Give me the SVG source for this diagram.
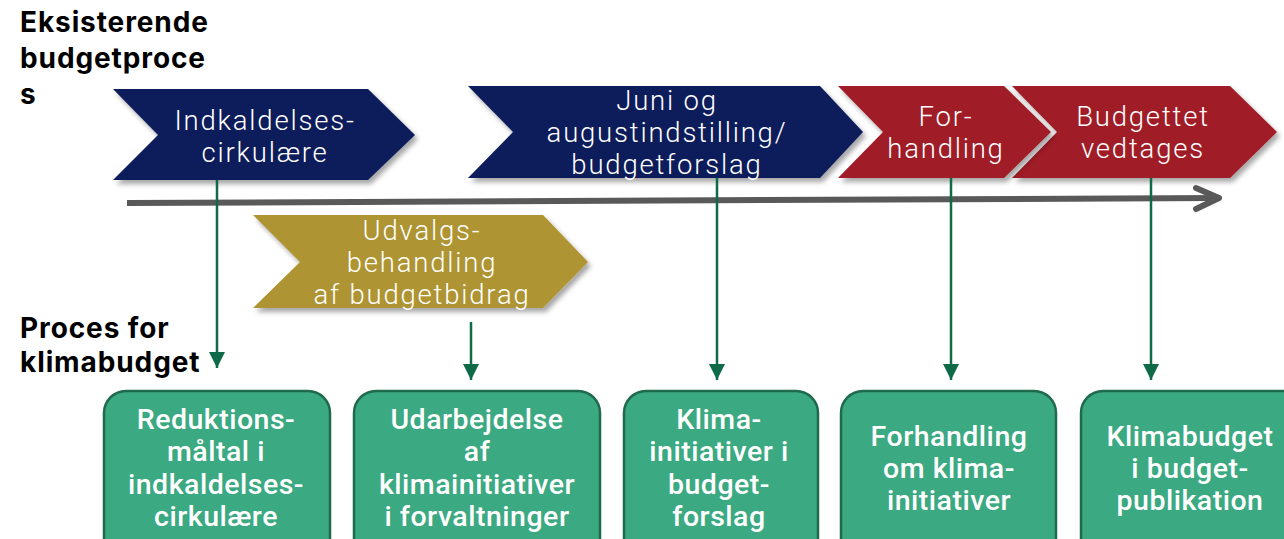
<svg xmlns="http://www.w3.org/2000/svg" width="1284" height="539" viewBox="0 0 1284 539">
<defs>
<filter id="sh" x="-10%" y="-20%" width="130%" height="150%">
<feDropShadow dx="3" dy="4" stdDeviation="2.5" flood-color="#000" flood-opacity="0.35"/>
</filter>
<marker id="ah" markerWidth="16" markerHeight="16" refX="16" refY="8" orient="auto" markerUnits="userSpaceOnUse" viewBox="0 0 16 16">
<path d="M0,0 L16,8 L0,16 Z" fill="#0f6b47"/>
</marker>
<style>
.hd{font-family:Inter,"Open Sans",sans-serif;font-weight:700;font-size:28px;letter-spacing:0.9px;fill:#000}
.cv{font-family:Roboto,"Open Sans",sans-serif;font-weight:300;font-size:27.5px;letter-spacing:1.8px;fill:#fff;text-anchor:middle}
.bx{font-family:Roboto,"Noto Sans",sans-serif;font-weight:500;font-size:28.5px;letter-spacing:0.5px;fill:#fff;text-anchor:middle}
.box{fill:#3ba982;stroke:#1d6a4c;stroke-width:2.5}
.cn{stroke:#0f6b47;stroke-width:2.5;fill:none}
.navy{fill:#0c1c5a}
.red{fill:#a01a26}
.gold{fill:#ae9432}
</style>
</defs>
<rect width="1284" height="539" fill="#fff"/>

<g id="heading-eksisterende">
<text class="hd" x="20" y="32">Eksisterende</text>
<text class="hd" x="20" y="68">budgetproce</text>
<text class="hd" x="20" y="104">s</text>
</g>
<g id="heading-proces">
<text class="hd" x="20" y="338">Proces for</text>
<text class="hd" x="20" y="372">klimabudget</text>
</g>

<g id="timeline">
<line x1="127" y1="203" x2="1217" y2="198" stroke="#595959" stroke-width="6"/>
<polyline points="1196,188 1219,198 1196,209" fill="none" stroke="#595959" stroke-width="6" stroke-linecap="round" stroke-linejoin="round"/>
</g>

<g id="chevron-indkaldelse">
<polygon class="navy" filter="url(#sh)" points="113,89 368,89 415,135 368,180 113,180 158,135"/>
<text class="cv" x="265" y="130">Indkaldelses-</text>
<text class="cv" x="265" y="162">cirkulære</text>
</g>

<g id="chevron-juni">
<polygon class="navy" filter="url(#sh)" points="468,86 820,86 863,132 820,178 468,178 513,132"/>
<text class="cv" x="667" y="110">Juni og</text>
<text class="cv" x="667" y="142">augustindstilling/</text>
<text class="cv" x="667" y="174">budgetforslag</text>
</g>

<g id="chevron-vedtages">
<polygon class="red" filter="url(#sh)" points="1012,86 1230,86 1277,132 1230,178 1012,178 1057,132"/>
<text class="cv" x="1143" y="126">Budgettet</text>
<text class="cv" x="1143" y="158">vedtages</text>
</g>

<g id="chevron-forhandling">
<polygon class="red" filter="url(#sh)" points="838,86 1004,86 1051,132 1004,178 838,178 883,132"/>
<text class="cv" x="946" y="126">For-</text>
<text class="cv" x="946" y="158">handling</text>
</g>

<g id="chevron-udvalg">
<polygon class="gold" filter="url(#sh)" points="253,215 543,215 588,262 543,308 253,308 300,262"/>
<text class="cv" x="422" y="240">Udvalgs-</text>
<text class="cv" x="422" y="272">behandling</text>
<text class="cv" x="422" y="304">af budgetbidrag</text>
</g>

<g id="connectors">
<line class="cn" x1="217" y1="180" x2="217" y2="368" marker-end="url(#ah)"/>
<line class="cn" x1="471" y1="322" x2="471" y2="380" marker-end="url(#ah)"/>
<line class="cn" x1="717" y1="178" x2="717" y2="380" marker-end="url(#ah)"/>
<line class="cn" x1="951" y1="178" x2="951" y2="380" marker-end="url(#ah)"/>
<line class="cn" x1="1151" y1="178" x2="1151" y2="380" marker-end="url(#ah)"/>
</g>

<g id="box-reduktion">
<rect class="box" x="104" y="391" width="226" height="170" rx="22"/>
<text class="bx" x="216" y="429">Reduktions-</text>
<text class="bx" x="216" y="461">måltal i</text>
<text class="bx" x="216" y="494">indkaldelses-</text>
<text class="bx" x="216" y="526">cirkulære</text>
</g>

<g id="box-udarbejdelse">
<rect class="box" x="354" y="391" width="246" height="170" rx="22"/>
<text class="bx" x="477" y="429">Udarbejdelse</text>
<text class="bx" x="477" y="461">af</text>
<text class="bx" x="477" y="494">klimainitiativer</text>
<text class="bx" x="477" y="526">i forvaltninger</text>
</g>

<g id="box-klimainitiativer">
<rect class="box" x="624" y="391" width="194" height="170" rx="22"/>
<text class="bx" x="719" y="429">Klima-</text>
<text class="bx" x="719" y="461">initiativer i</text>
<text class="bx" x="719" y="494">budget-</text>
<text class="bx" x="719" y="526">forslag</text>
</g>

<g id="box-forhandling">
<rect class="box" x="841" y="391" width="215" height="170" rx="22"/>
<text class="bx" x="949" y="446">Forhandling</text>
<text class="bx" x="949" y="478">om klima-</text>
<text class="bx" x="949" y="510">initiativer</text>
</g>

<g id="box-klimabudget">
<rect class="box" x="1081" y="391" width="226" height="170" rx="22"/>
<text class="bx" x="1190" y="446">Klimabudget</text>
<text class="bx" x="1190" y="478">i budget-</text>
<text class="bx" x="1190" y="510">publikation</text>
</g>
</svg>
